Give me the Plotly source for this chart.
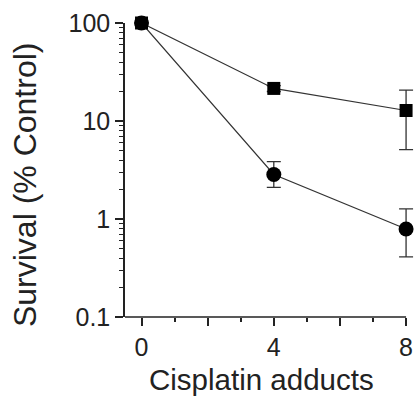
import plotly.graph_objects as go

x_vals = [0, 4, 8]
square_y = [100, 21.5, 12.8]
square_err_plus = [0, 1.5, 7.9]
square_err_minus = [0, 1.5, 7.7]
circle_y = [100, 2.85, 0.79]
circle_err_plus = [0, 1.0, 0.48]
circle_err_minus = [0, 0.75, 0.38]

x_range = [-0.5, 8]
x_tickvals = [0, 2, 4, 6, 8]
x_ticktext = ["0", "", "4", "", "8"]
y_tickvals = [0.1, 1, 10, 100]
y_ticktext = ["0.1", "1", "10", "100"]
y_minor_vals = [m * d for d in (0.1, 1, 10) for m in range(2, 10)]

x_title = "Cisplatin adducts"
y_title = "Survival (% Control)"

font = "Liberation Sans, Arial, sans-serif"

fig = go.Figure()
fig.add_trace(go.Scatter(
    x=x_vals, y=circle_y, mode="lines+markers",
    line=dict(color="#333", width=1.2),
    marker=dict(symbol="circle", size=15, color="black"),
    error_y=dict(type="data", symmetric=False, array=circle_err_plus,
                 arrayminus=circle_err_minus, color="#333", thickness=1.3, width=7),
    cliponaxis=False, showlegend=False))
fig.add_trace(go.Scatter(
    x=x_vals, y=square_y, mode="lines+markers",
    line=dict(color="#333", width=1.2),
    marker=dict(symbol="square", size=13, color="black"),
    error_y=dict(type="data", symmetric=False, array=square_err_plus,
                 arrayminus=square_err_minus, color="#333", thickness=1.3, width=7),
    cliponaxis=False, showlegend=False))

fig.update_layout(
    width=415, height=397,
    margin=dict(l=125, r=0, t=23, b=80, autoexpand=False),
    paper_bgcolor="white", plot_bgcolor="white",
    font=dict(family=font, size=25, color="#222"),
    xaxis=dict(
        automargin=False,
        range=[x_range[0], 8.27], showgrid=False, zeroline=False,
        showline=False,
        ticks="outside", ticklen=8, tickwidth=1.5, tickcolor="#222",
        tickvals=x_tickvals, ticktext=x_ticktext,
        minor=dict(ticks="outside", ticklen=4, tickwidth=1.5, tickcolor="#222", dtick=1, showgrid=False),
    ),
    yaxis=dict(
        automargin=False,
        type="log", range=[-1, 2], showgrid=False, zeroline=False,
        showline=True, linecolor="#222", linewidth=1.5,
        ticks="outside", ticklen=8, tickwidth=1.5, tickcolor="#222",
        tickvals=y_tickvals, ticktext=y_ticktext,
        minor=dict(ticks="outside", ticklen=4, tickwidth=1.2, tickcolor="#222",
                   tickvals=y_minor_vals, showgrid=False),
    ),
    shapes=[dict(type="line", xref="x", yref="paper", x0=x_range[0], x1=x_range[1],
                 y0=0, y1=0, line=dict(color="#222", width=1.5), layer="above")],
    annotations=[
        dict(text=y_title, textangle=-90, xref="paper", yref="paper",
             x=-0.345, y=0.452, xanchor="center", yanchor="middle",
             showarrow=False, font=dict(size=32, family=font, color="#222")),
        dict(text=x_title, xref="paper", yref="paper",
             x=0.472, y=-0.212, xanchor="center", yanchor="middle",
             showarrow=False, font=dict(size=29.5, family=font, color="#222")),
    ],
)

fig.write_html("out.html", config={"displayModeBar": False},
               post_script="document.body.style.margin='0';document.body.style.overflow='hidden';")
